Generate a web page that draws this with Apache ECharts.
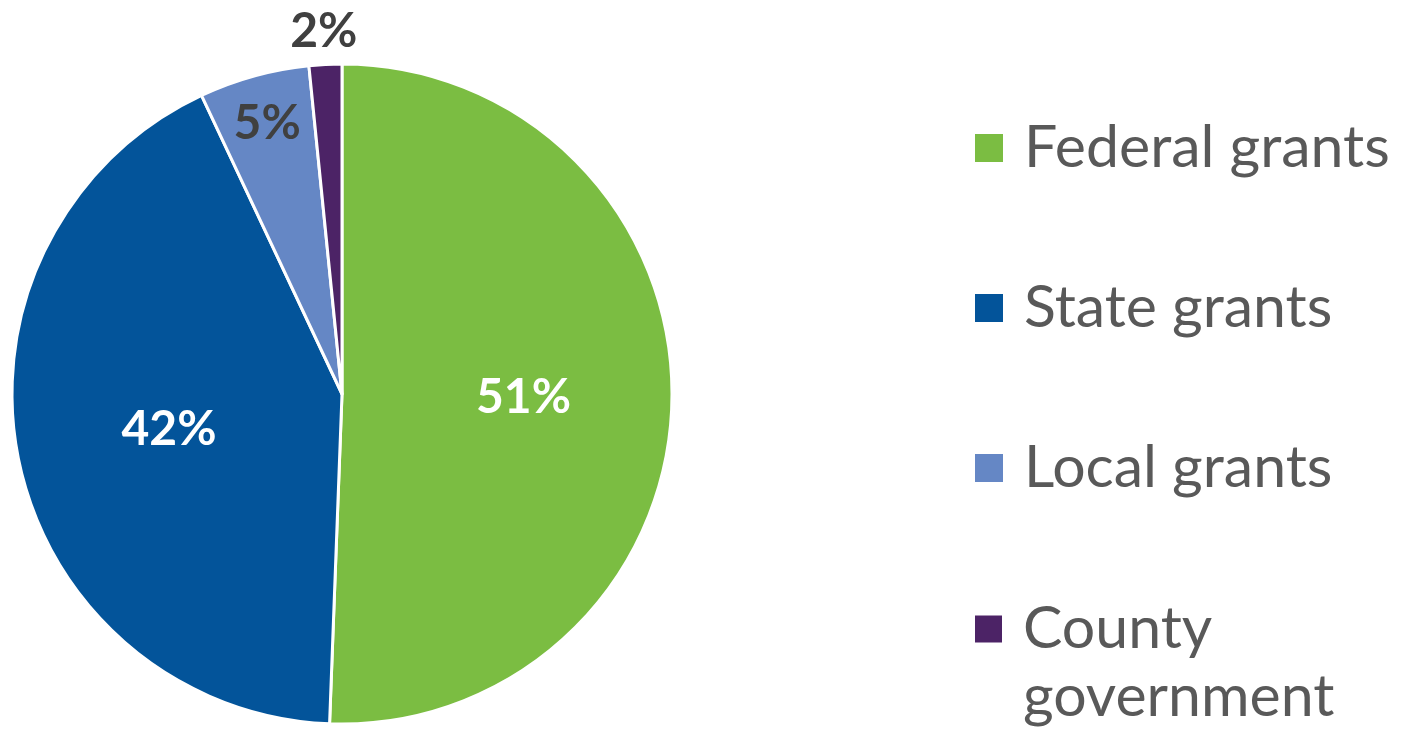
<!DOCTYPE html>
<html>
<head>
<meta charset="utf-8">
<script src="https://cdn.jsdelivr.net/npm/echarts@6/dist/echarts.min.js"></script>
<style>html,body{margin:0;padding:0;background:#fff}#main{width:1404px;height:737px}</style>
</head>
<body>
<div id="main"></div>
<script>
// ---- data ----
const categories = ['Federal grants', 'State grants', 'Local grants', 'County government'];
const values = [50.6, 42.4, 5.4, 1.6];

// ---- style ----
const colors = ['#7BBD42', '#03549A', '#6587C5', '#4C2366'];
const labelColors = ['#ffffff', '#ffffff', '#404040', '#404040'];
const labelRadiusFactor = [0.55, 0.535, 0.85, 1.1];
const CX = 342, CY = 394, R = 330;

const chart = echarts.init(document.getElementById('main'), null, {renderer: 'canvas'});
const legendText = {fontFamily: 'Lato', fontSize: 59, color: '#595959', lineHeight: 68, padding: [0, 0, 0, 15]};
chart.setOption({
  animation: false,
  color: colors,
  legend: [
    {
      orient: 'vertical', left: 973, top: 114, itemGap: 92, padding: 0,
      itemWidth: 30, itemHeight: 30, icon: 'rect',
      data: categories.slice(0, 3),
      textStyle: legendText,
      selectedMode: false
    },
    {
      orient: 'vertical', left: 973, top: 527, padding: 0,
      itemWidth: 29, itemHeight: 29, icon: 'rect',
      data: [categories[3]],
      formatter: n => ' \n' + n,
      textStyle: Object.assign({}, legendText, {width: 380, overflow: 'break'}),
      selectedMode: false
    }
  ],
  series: [{
    type: 'pie',
    center: [CX, CY],
    radius: R,
    startAngle: 90,
    clockwise: true,
    itemStyle: {borderColor: '#ffffff', borderWidth: 3},
    label: {
      show: true,
      position: 'inside',
      fontFamily: 'Lato',
      fontWeight: 'bold',
      fontSize: 48,
      formatter: p => Math.round(p.percent) + '%'
    },
    labelLine: {show: false},
    data: categories.map((c, i) => ({
      name: c, value: values[i],
      label: {color: labelColors[i]}
    })),
    labelLayout: function (p) {
      const r = p.labelRect;
      const lx = r.x + r.width / 2, ly = r.y + r.height / 2;
      const dx0 = lx - CX, dy0 = ly - CY;
      const d = Math.sqrt(dx0 * dx0 + dy0 * dy0) || 1;
      const f = labelRadiusFactor[p.dataIndex] * R;
      return {dx: CX + dx0 / d * f - lx, dy: CY + dy0 / d * f - ly};
    }
  }]
});
</script>
</body>
</html>
